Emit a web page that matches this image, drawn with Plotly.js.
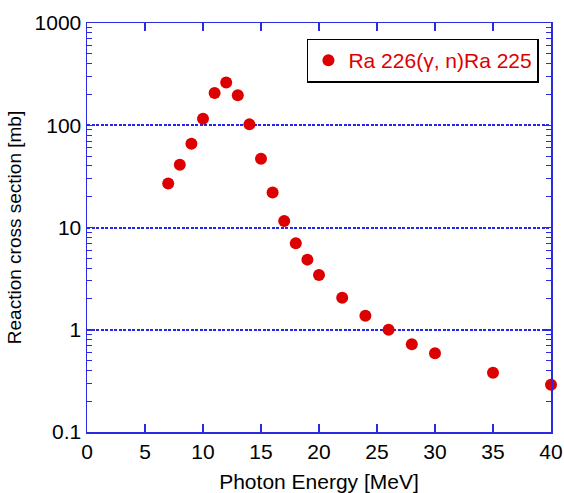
<!DOCTYPE html>
<html>
<head>
<meta charset="utf-8">
<script src="https://cdn.plot.ly/plotly-3.0.1.min.js"></script>
<style>html,body{margin:0;padding:0;background:#fff;}#chart{width:564px;height:493px;}</style>
</head>
<body>
<div id="chart"></div>
<script>
const energy = [7, 8, 9, 10, 11, 12, 13, 14, 15, 16, 17, 18, 19, 20, 22, 24, 26, 28, 30, 35, 40];
const crossSection = [27, 41, 66, 116, 207, 262, 197, 102, 47, 22, 11.6, 7.0, 4.85, 3.44, 2.06, 1.37, 1.0, 0.72, 0.59, 0.38, 0.29];
const seriesName = 'Ra 226(γ, n)Ra 225';
const xTicks = [0, 5, 10, 15, 20, 25, 30, 35, 40];
const yTickVals = [0.1, 1, 10, 100, 1000];
const yTickText = ['0.1', '1', '10', '100', '1000'];

const axisColor = '#2a2ae0';
const fam = 'Liberation Sans, Arial, sans-serif';
const tickFont = {family: fam, size: 21, color: '#000'};

const trace = {
  x: energy, y: crossSection, type: 'scatter', mode: 'markers', name: seriesName,
  marker: {color: '#dd0000', size: 12}, cliponaxis: false
};

const layout = {
  width: 564, height: 493,
  margin: {l: 87, r: 13, t: 23, b: 61},
  paper_bgcolor: '#fff', plot_bgcolor: '#fff',
  font: tickFont,
  showlegend: true,
  legend: {
    x: 0.974, y: 0.962, xanchor: 'right', yanchor: 'top',
    bordercolor: '#000', borderwidth: 1.5, bgcolor: '#fff',
    font: {family: fam, size: 21, color: '#dd0000'},
    itemwidth: 30
  },
  xaxis: {
    range: [0, 40], tickvals: xTicks, ticktext: xTicks.map(String),
    ticks: 'inside', ticklen: 8, tickcolor: axisColor, tickwidth: 1.5,
    showline: true, linecolor: axisColor, linewidth: 1.5, mirror: 'ticks',
    showgrid: false, zeroline: false,
    tickfont: tickFont,
    title: {text: 'Photon Energy [MeV]', font: {family: fam, size: 21, color: '#000'}, standoff: 15}
  },
  yaxis: {
    type: 'log', range: [-1, 3], tickvals: yTickVals, ticktext: yTickText,
    ticks: 'inside', ticklen: 6, tickcolor: axisColor, tickwidth: 1.5,
    showline: true, linecolor: axisColor, linewidth: 1.5, mirror: 'ticks',
    showgrid: true, gridcolor: '#2525f0', gridwidth: 2, griddash: '3px,1.5px',
    zeroline: false,
    minor: {ticks: 'inside', ticklen: 5, tickcolor: axisColor, tickwidth: 1, dtick: 'D1', showgrid: false},
    tickfont: tickFont,
    title: {text: 'Reaction cross section [mb]', font: {family: fam, size: 19, color: '#000'}, standoff: 8}
  }
};

Plotly.newPlot('chart', [trace], layout, {displayModeBar: false, staticPlot: true});
</script>
</body>
</html>
